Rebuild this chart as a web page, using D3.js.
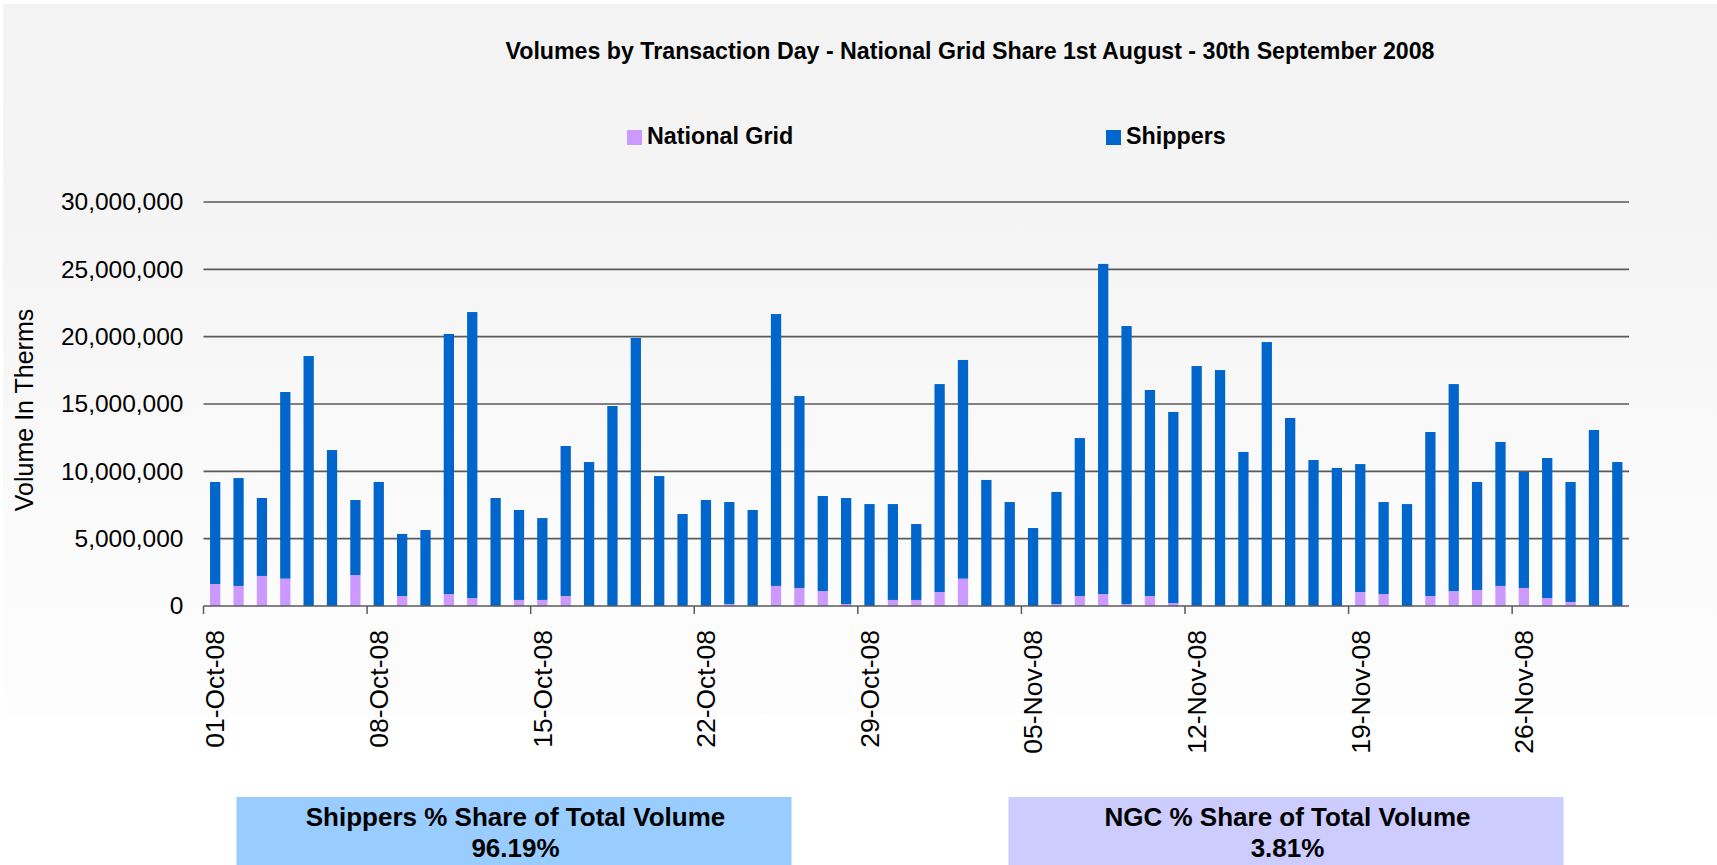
<!DOCTYPE html>
<html>
<head>
<meta charset="utf-8">
<script src="https://cdn.jsdelivr.net/npm/d3@7"></script>
<style>
  body { margin: 0; background: #ffffff; }
  text { font-family: "Liberation Sans", Arial, sans-serif; }
</style>
</head>
<body>
<div id="chart"></div>
<script>

// days shown on the axis, 01-Oct-08 .. 30-Nov-08
var days = d3.timeDay.range(new Date(2008, 9, 1), new Date(2008, 11, 1));

var tickLabels = ["01-Oct-08", "08-Oct-08", "15-Oct-08", "22-Oct-08", "29-Oct-08",
  "05-Nov-08", "12-Nov-08", "19-Nov-08", "26-Nov-08"];

var yTicks = [0, 5000000, 10000000, 15000000, 20000000, 25000000, 30000000];

// National Grid volume (bottom of each stack)
var nationalGrid = [
  1630000, 1490000, 2230000, 2030000, 0, 0, 2300000, 0, 740000, 0,
  890000, 590000, 0, 450000, 450000, 740000, 0, 0, 0, 0,
  0, 0, 150000, 0, 1490000, 1340000, 1110000, 150000, 0, 450000,
  450000,
  1040000, 2030000, 0, 0, 0, 150000, 740000, 890000, 150000, 740000,
  220000, 0, 0, 0, 0, 0, 0, 0, 1040000, 890000,
  0, 740000, 1110000, 1190000, 1490000, 1340000, 590000, 300000, 0, 0
];

// Shippers volume (stacked on top)
var shippers = [
  7580000, 8010000, 5790000, 13860000, 18560000, 11580000, 5570000, 9210000, 4610000, 5640000,
  19310000, 21240000, 8020000, 6680000, 6080000, 11140000, 10690000, 14850000, 19900000, 9650000,
  6830000, 7870000, 7570000, 7130000, 20190000, 14250000, 7060000, 7870000, 7570000, 7120000,
  5640000,
  15440000, 16240000, 9360000, 7720000, 5790000, 8320000, 11730000, 24510000, 20640000, 15300000,
  14190000, 17820000, 17520000, 11440000, 19600000, 13960000, 10840000, 10250000, 9500000, 6830000,
  7570000, 12180000, 15370000, 8020000, 10690000, 8610000, 10400000, 8910000, 13070000, 10690000
];

var seriesNames = ["National Grid", "Shippers"];
var seriesColors = ["#CC99FF", "#0066CC"];

var shareLabels = ["Shippers % Share of Total Volume", "NGC % Share of Total Volume"];
var shareValues = ["96.19%", "3.81%"];
var shareColors = ["#99CCFF", "#CCCCFF"];

function drawChart() {

  var width = 1717, height = 865;
  var plotLeft = 203.5, plotRight = 1629, plotTop = 202, plotBottom = 606;

  var svg = d3.select("#chart")
    .append("svg")
    .attr("width", width)
    .attr("height", height);

  // background gradient
  var grad = svg.append("defs").append("linearGradient")
    .attr("id", "bg")
    .attr("x1", 0).attr("y1", 0).attr("x2", 0).attr("y2", 1);
  grad.append("stop").attr("offset", "0%").attr("stop-color", "#f3f3f3");
  grad.append("stop").attr("offset", "35%").attr("stop-color", "#f5f5f5");
  grad.append("stop").attr("offset", "75%").attr("stop-color", "#fbfbfb");
  grad.append("stop").attr("offset", "100%").attr("stop-color", "#fdfdfd");

  svg.append("rect")
    .attr("x", 3).attr("y", 4)
    .attr("width", width - 3).attr("height", 711)
    .style("fill", "url(#bg)");

  // scales
  var x = d3.scaleBand()
    .domain(d3.range(days.length))
    .range([plotLeft, plotRight])
    .paddingInner(0.56)
    .paddingOuter(0.28);

  var y = d3.scaleLinear()
    .domain([0, 30000000])
    .range([plotBottom, plotTop]);

  var step = x.step();

  // gridlines
  svg.append("g").selectAll("line")
    .data(yTicks.slice(1))
    .enter().append("line")
      .attr("x1", plotLeft)
      .attr("x2", plotRight)
      .attr("y1", function(d) { return y(d); })
      .attr("y2", function(d) { return y(d); })
      .style("stroke", "#5a5a5a")
      .style("stroke-width", 1.6);

  // y axis labels
  var yAxis = svg.append("g")
    .attr("transform", "translate(" + (plotLeft - 20) + ",0)")
    .call(d3.axisLeft(y).tickValues(yTicks).tickFormat(d3.format(",")).tickSize(0));
  yAxis.select(".domain").remove();
  yAxis.selectAll("text")
    .attr("x", 0)
    .style("font-family", "'Liberation Sans', Arial, sans-serif")
    .style("font-size", "24.5px")
    .style("fill", "#000");

  svg.append("text")
    .attr("transform", "translate(33,410) rotate(-90)")
    .style("text-anchor", "middle")
    .style("font-size", "25px")
    .text("Volume In Therms");

  // stacked bars
  var stackData = days.map(function(d, i) {
    return { ng: nationalGrid[i], sh: shippers[i] };
  });
  var stack = d3.stack().keys(["ng", "sh"])(stackData);

  svg.append("g").selectAll("g")
    .data(stack)
    .enter().append("g")
      .style("fill", function(d, i) { return seriesColors[i]; })
    .selectAll("rect")
    .data(function(d) { return d; })
    .enter().append("rect")
      .attr("x", function(d, i) { return x(i); })
      .attr("width", x.bandwidth())
      .attr("y", function(d) { return y(d[1]); })
      .attr("height", function(d) { return y(d[0]) - y(d[1]); });

  // x axis: ticks at the start of each labelled week, labels at the day centre
  var labelIdx = tickLabels.map(function(t, i) { return i * 7; });

  svg.append("line")
    .attr("x1", plotLeft).attr("x2", plotRight)
    .attr("y1", plotBottom).attr("y2", plotBottom)
    .style("stroke", "#5a5a5a")
    .style("stroke-width", 1.6);

  svg.append("g").selectAll("line")
    .data(labelIdx)
    .enter().append("line")
      .attr("x1", function(d) { return x(d) - (step - x.bandwidth()) / 2; })
      .attr("x2", function(d) { return x(d) - (step - x.bandwidth()) / 2; })
      .attr("y1", plotBottom)
      .attr("y2", plotBottom + 8)
      .style("stroke", "#5a5a5a")
      .style("stroke-width", 1.5);

  svg.append("g").selectAll("text")
    .data(labelIdx)
    .enter().append("text")
      .attr("transform", function(d) {
        return "translate(" + (x(d) + x.bandwidth() / 2) + "," + (plotBottom + 24) + ") rotate(-90)";
      })
      .attr("dy", "0.35em")
      .style("text-anchor", "end")
      .style("font-size", "26.5px")
      .text(function(d, i) { return tickLabels[i]; });

  // title
  svg.append("text")
    .attr("x", 970)
    .attr("y", 59)
    .style("text-anchor", "middle")
    .style("font-size", "23.2px")
    .style("font-weight", "bold")
    .text("Volumes by Transaction Day - National Grid Share 1st August - 30th September 2008");

  // legend
  var legendX = [627, 1106];
  var legend = svg.append("g").selectAll("g")
    .data(seriesNames)
    .enter().append("g")
      .attr("transform", function(d, i) { return "translate(" + legendX[i] + ",130)"; });
  legend.append("rect")
    .attr("width", 15)
    .attr("height", 15)
    .style("fill", function(d, i) { return seriesColors[i]; });
  legend.append("text")
    .attr("x", 20)
    .attr("y", 14)
    .style("font-size", "23.3px")
    .style("font-weight", "bold")
    .text(function(d) { return d; });

  // share boxes
  var boxX = [236.5, 1008.5];
  var boxes = svg.append("g").selectAll("g")
    .data(shareLabels)
    .enter().append("g")
      .attr("transform", function(d, i) { return "translate(" + boxX[i] + ",797)"; });
  boxes.append("rect")
    .attr("width", 555)
    .attr("height", 68)
    .style("fill", function(d, i) { return shareColors[i]; });
  boxes.append("text")
    .attr("x", 279)
    .attr("y", 29)
    .style("text-anchor", "middle")
    .style("font-size", "26px")
    .style("font-weight", "bold")
    .text(function(d) { return d; });
  boxes.append("text")
    .attr("x", 279)
    .attr("y", 60)
    .style("text-anchor", "middle")
    .style("font-size", "26px")
    .style("font-weight", "bold")
    .text(function(d, i) { return shareValues[i]; });
}

drawChart();

</script>
</body>
</html>
